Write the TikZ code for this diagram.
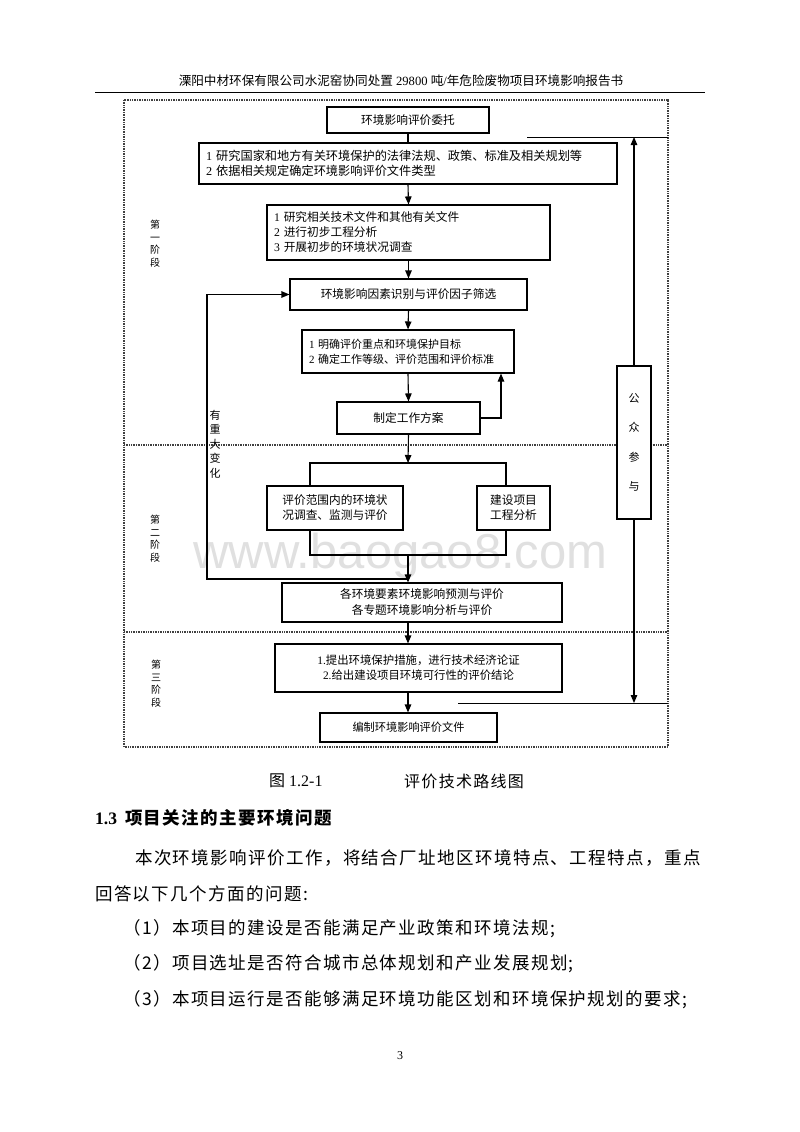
\documentclass[tikz,border=0pt]{standalone}
\usepackage{fontspec}
\setmainfont{Liberation Serif}
\newfontfamily\cjk{Noto Sans CJK SC}
\newfontfamily\cjkw[LetterSpace=8]{Noto Sans CJK SC}
\newfontfamily\wmfont{Liberation Sans}
\usetikzlibrary{arrows.meta}
\newcommand\C[1]{{\cjk #1}}
\newcommand\dg{\fontsize{11.7}{15}\selectfont}
\begin{document}
\begin{tikzpicture}[x=1pt,y=-1pt,
  box/.style={draw, line width=1.1pt, inner sep=0pt, font=\dg, align=center},
  lbox/.style={draw, line width=1.1pt, inner ysep=0pt, inner xsep=7pt, font=\dg, align=left},
  ln/.style={line width=1.1pt},
  arr/.style={line width=1.1pt, -{Triangle[length=8pt,width=6.5pt]}},
  phase/.style={font=\fontsize{10}{12.5}\selectfont\cjk, align=center, inner sep=0pt},
  border/.style={line width=1.3pt, black!75, dash pattern=on 1pt off 0.7pt},
  body/.style={font=\fontsize{17.5}{20}\selectfont\cjkw, anchor=west, inner sep=0pt}
]
\useasboundingbox (0,0) rectangle (800,1132);
\fill[white] (0,0) rectangle (800,1132);

% header
\node[font=\fontsize{12.6}{14}\selectfont, inner sep=0pt] (hdr) at (401,81)
  {\C{溧阳中材环保有限公司水泥窑协同处置} 29800 \C{吨}/\C{年危险废物项目环境影响报告书}};
\coordinate (hl) at (95,92);
\coordinate (hr) at (705,92);
\draw[line width=1pt] (hl) -- (hr);

% watermark
\node[font=\fontsize{49}{50}\selectfont\wmfont, text=black!12, anchor=base, inner sep=0pt] (wm) at (400.5,568) {www.baogao8.com};

% outer dotted frame and phase separators
\coordinate (ftl) at (124,100);
\coordinate (fbr) at (668,747);
\draw[border] (ftl) rectangle (fbr);
\coordinate (s1l) at (124,445); \coordinate (s1r) at (668,445);
\coordinate (s2l) at (124,632); \coordinate (s2r) at (668,632);
\draw[border] (s1l) -- (s1r);
\draw[border] (s2l) -- (s2r);

% phase labels
\node[phase] (p1) at (155,243.5) {第\\一\\阶\\段};
\node[phase] (p2) at (155,538.5) {第\\二\\阶\\段};
\node[phase] (p3) at (156,683.5) {第\\三\\阶\\段};

% boxes
\node[box, minimum width=162pt, minimum height=26pt] (b1) at (408,120) {\C{环境影响评价委托}};
\node[lbox, text width=404pt, minimum height=41pt, font=\fontsize{12.2}{15}\selectfont] (b2) at (408,163.5)
  {1 \C{研究国家和地方有关环境保护的法律法规、政策、标准及相关规划等}\\2 \C{依据相关规定确定环境影响评价文件类型}};
\node[lbox, text width=269pt, minimum height=55pt] (b3) at (408.5,232.5)
  {1 \C{研究相关技术文件和其他有关文件}\\2 \C{进行初步工程分析}\\3 \C{开展初步的环境状况调查}};
\node[box, minimum width=237pt, minimum height=31pt] (b4) at (408.5,294.5) {\C{环境影响因素识别与评价因子筛选}};
\node[lbox, text width=198pt, minimum height=43pt, font=\fontsize{11}{15}\selectfont] (b5) at (408,351.5)
  {1 \C{明确评价重点和环境保护目标}\\2 \C{确定工作等级、评价范围和评价标准}};
\node[box, minimum width=143pt, minimum height=32pt] (b6) at (408.5,418) {\C{制定工作方案}};
\node[box, minimum width=136pt, minimum height=44pt] (bl) at (335,508)
  {\C{评价范围内的环境状}\\\C{况调查、监测与评价}};
\node[box, minimum width=73pt, minimum height=44pt] (br) at (513.5,508)
  {\C{建设项目}\\\C{工程分析}};
\node[box, minimum width=280pt, minimum height=39pt, font=\fontsize{11.7}{16}\selectfont] (b8) at (422,602.5)
  {\C{各环境要素环境影响预测与评价}\\\C{各专题环境影响分析与评价}};
\node[box, minimum width=287pt, minimum height=48pt, font=\fontsize{11.4}{15}\selectfont] (b9) at (418.5,668)
  {1.\C{提出环境保护措施，进行技术经济论证}\\2.\C{给出建设项目环境可行性的评价结论}};
\node[box, minimum width=177pt, minimum height=29pt, font=\fontsize{11.2}{15}\selectfont] (b10) at (408.5,727.5) {\C{编制环境影响评价文件}};
\node[box, fill=white, minimum width=34pt, minimum height=153pt, font=\fontsize{11}{29.5}\selectfont\cjk] (pub) at (634,442.5)
  {公\\众\\参\\与};

% loop label
\node[font=\fontsize{11}{14.5}\selectfont\cjk, align=center, inner sep=0pt] (chg) at (215,444) {有\\重\\大\\变\\化};

% main spine
\draw[ln] (b1.south) -- (b2.north);
\draw[arr] (b2.south) -- (b3.north);
\draw[arr] (b3.south) -- (b4.north);
\draw[arr] (b4.south) -- (b5.north);
\draw[arr] (b5.south) -- (b6.north);
\coordinate (r6) at (501,418);
\draw[arr] (b6.east) -- (r6) -- (r6 |- b5.south);

% split bracket
\coordinate (bt) at (408,463);
\coordinate (btl) at (310,463);
\coordinate (btr) at (506,463);
\coordinate (bbl) at (310,555);
\coordinate (bbr) at (506,555);
\coordinate (bbm) at (408,555);
\draw[arr] (b6.south) -- (bt);
\draw[ln] (btl |- bl.north) -- (btl) -- (btr) -- (btr |- br.north);
\draw[ln] (bbl |- bl.south) -- (bbl) -- (bbr) -- (bbr |- br.south);
\draw[arr] (bbm) -- (bbm |- b8.north);

% feedback loop
\coordinate (lj) at (408,579);
\coordinate (lc) at (207,579);
\draw[arr] (lj) -- (lc) -- (lc |- b4.west) -- (b4.west);

\draw[arr] (b8.south -| bbm) -- (b9.north -| bbm);
\draw[arr] (b9.south -| bbm) -- (b10.north -| bbm);

% public participation
\coordinate (pt) at (634,137);
\coordinate (ptl) at (527,137);
\coordinate (ptr) at (668,137);
\coordinate (pb) at (634,703);
\coordinate (pbl) at (458,703);
\coordinate (pbr) at (668,703);
\draw[line width=1pt] (ptl) -- (ptr);
\draw[line width=1pt] (pbl) -- (pbr);
\draw[arr] (pub.north) -- (pt);
\draw[arr] (pub.south) -- (pb);

% caption and body text
\node[font=\fontsize{16}{18}\selectfont, anchor=west, inner sep=0pt] (cap1) at (269,781) {\C{图} 1.2-1};
\node[font=\fontsize{16}{18}\selectfont\cjkw, anchor=west, inner sep=0pt] (cap2) at (404,781) {评价技术路线图};
\node[font=\fontsize{17.5}{20}\selectfont\bfseries, anchor=west, inner sep=0pt] (h13) at (95,818)
  {1.3\hspace{8pt}{\cjkw\bfseries 项目关注的主要环境问题}};
\node[body] (t1) at (135,858) {本次环境影响评价工作，将结合厂址地区环境特点、工程特点，重点};
\node[body] (t2) at (95,894) {回答以下几个方面的问题:};
\node[body] (t3) at (123,929) {（1）本项目的建设是否能满足产业政策和环境法规;};
\node[body] (t4) at (123,964) {（2）项目选址是否符合城市总体规划和产业发展规划;};
\node[body] (t5) at (123,1000) {（3）本项目运行是否能够满足环境功能区划和环境保护规划的要求;};
\node[font=\fontsize{12}{14}\selectfont, inner sep=0pt] (pg) at (400,1056) {3};
\end{tikzpicture}
\end{document}
